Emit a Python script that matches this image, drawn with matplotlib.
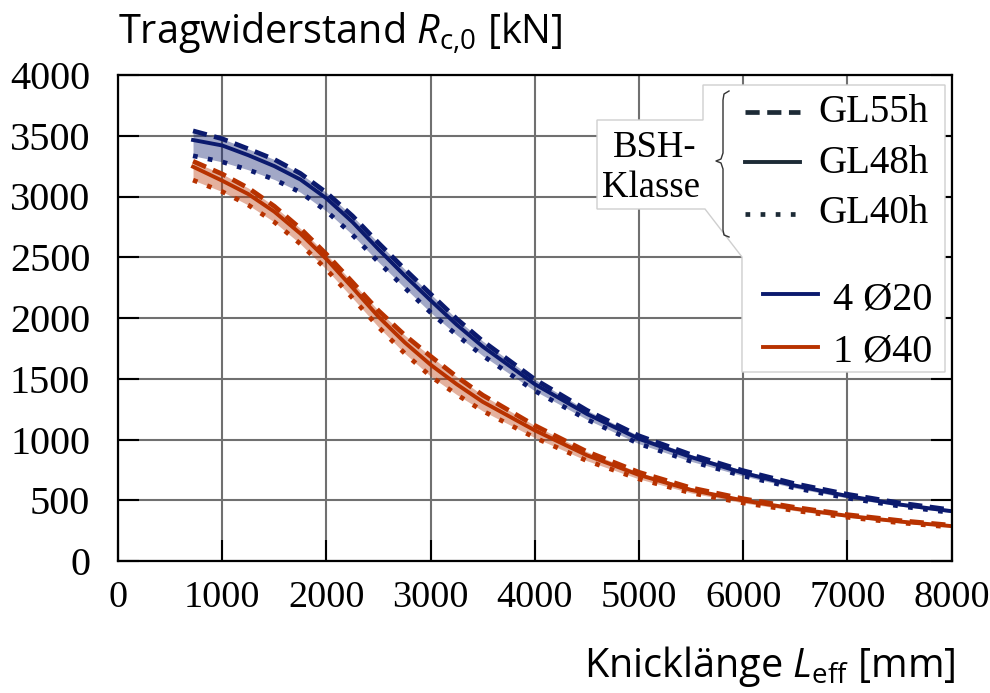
import matplotlib
matplotlib.use("Agg")
import matplotlib.pyplot as plt
from matplotlib.patches import Polygon

# Knicklänge [mm]
L_eff = [720, 1000, 1250, 1500, 1750, 2000, 2250, 2500, 2750, 3000, 3250, 3500,
         4000, 4500, 5000, 5500, 6000, 6500, 7000, 7500, 8000]

# 4 Ø20 (blau)
b_gl55 = [3540, 3475, 3392, 3305, 3190, 3032, 2840, 2617, 2403, 2197, 1993, 1810,
          1495, 1240, 1030, 875, 743, 635, 549, 478, 420]
b_gl48 = [3465, 3420, 3340, 3250, 3140, 2985, 2790, 2565, 2350, 2145, 1945, 1765,
          1455, 1210, 1005, 855, 725, 620, 535, 465, 410]
b_gl40 = [3335, 3285, 3220, 3140, 3035, 2880, 2685, 2460, 2250, 2045, 1860, 1690,
          1400, 1165, 965, 820, 700, 600, 518, 452, 398]

# 1 Ø40 (rot)
r_gl55 = [3290, 3185, 3070, 2920, 2737, 2525, 2295, 2060, 1860, 1685, 1517, 1365,
          1115, 900, 730, 602, 512, 441, 381, 333, 294]
r_gl48 = [3245, 3130, 3020, 2875, 2695, 2485, 2250, 2010, 1800, 1615, 1455, 1310,
          1075, 870, 708, 585, 498, 430, 372, 325, 287]
r_gl40 = [3135, 3040, 2930, 2790, 2610, 2400, 2165, 1925, 1710, 1520, 1370, 1235,
          1015, 825, 675, 560, 478, 414, 360, 315, 279]

xticks = [0, 1000, 2000, 3000, 4000, 5000, 6000, 7000, 8000]
yticks = [0, 500, 1000, 1500, 2000, 2500, 3000, 3500, 4000]

blau = '#0b1a6e'
rot = '#b83200'
dunkel = '#1d2b36'

plt.rcParams['mathtext.fontset'] = 'custom'
plt.rcParams['mathtext.rm'] = 'Open Sans'
plt.rcParams['mathtext.it'] = 'Open Sans:italic'

fig = plt.figure(figsize=(9.9, 6.93), dpi=100)
ax = fig.add_axes([118/990, 1-561/693, (951.7-118)/990, (561-75)/693])

for farbe, d55, d48, d40 in [(blau, b_gl55, b_gl48, b_gl40), (rot, r_gl55, r_gl48, r_gl40)]:
    ax.fill_between(L_eff, d40, d55, color=farbe, alpha=0.38, lw=0, zorder=2)
    ax.plot(L_eff, d55, color=farbe, lw=3.4, dashes=(3, 1.6), zorder=3)
    ax.plot(L_eff, d48, color=farbe, lw=2.8, zorder=4, solid_joinstyle='round')
    ax.plot(L_eff, d40, color=farbe, lw=3.4, dashes=(1, 2.2), zorder=3)

ax.set_xlim(0, 8000)
ax.set_ylim(0, 4000)
ax.set_xticks(xticks)
ax.set_yticks(yticks)
ax.set_xticklabels([str(v) for v in xticks], family='Liberation Serif', fontsize=27.5)
ax.set_yticklabels([str(v) for v in yticks], family='Liberation Serif', fontsize=29)
ax.tick_params(direction='in', length=15, width=1.5, color='black', right=True, top=False)
ax.tick_params(axis='x', pad=14)
ax.tick_params(axis='y', pad=20)
ax.grid(True, color='#707070', lw=1.5, zorder=1)
for s in ax.spines.values():
    s.set_linewidth(1.6)
    s.set_zorder(5)

fig.text(118/990, 1-44/693, 'Tragwiderstand $\\mathit{R}_\\mathrm{c{,}0}$ [kN]',
         family='Open Sans', fontsize=28.5, ha='left', va='baseline')
fig.text(955/990, 1-677/693, 'Knicklänge $\\mathit{L}_\\mathrm{eff}$ [mm]',
         family='Open Sans', fontsize=28.5, ha='right', va='baseline')

# Legende in Pixelkoordinaten
lax = fig.add_axes([0, 0, 1, 1], zorder=10)
lax.set_xlim(0, 990)
lax.set_ylim(693, 0)
lax.axis('off')

umriss = [(703, 85), (945, 85), (945, 372), (742, 372), (742, 257), (705, 209),
          (597, 209), (597, 120), (703, 120)]
lax.add_patch(Polygon(umriss, closed=True, facecolor='white', edgecolor='#cfcfcf', lw=1))

klammer_x = [729, 724, 723, 723, 721, 716, 721, 723, 723, 724, 729]
klammer_y = [91, 94, 100, 153, 159, 161, 163, 169, 230, 235, 237]
lax.plot(klammer_x, klammer_y, color='#333333', lw=1)

lax.text(655, 157, 'BSH-', family='Liberation Serif', fontsize=26.5, ha='center', va='baseline')
lax.text(651, 197, 'Klasse', family='Liberation Serif', fontsize=26.5, ha='center', va='baseline')

lax.plot([745, 800], [112, 112], color=dunkel, lw=3.4, dashes=(3, 1.6))
lax.plot([745, 800], [162, 162], color=dunkel, lw=2.8)
lax.plot([745, 800], [214, 214], color=dunkel, lw=3.4, dashes=(1, 2.2))
for y, t in [(122, 'GL55h'), (173, 'GL48h'), (223, 'GL40h')]:
    lax.text(818, y, t, family='Liberation Serif', fontsize=28, ha='left', va='baseline')

lax.plot([763, 818], [294, 294], color=blau, lw=2.8)
lax.plot([763, 818], [347, 347], color=rot, lw=2.8)
lax.text(833, 310, '4 Ø20', family='Liberation Serif', fontsize=29, ha='left', va='baseline')
lax.text(833, 362, '1 Ø40', family='Liberation Serif', fontsize=29, ha='left', va='baseline')

fig.savefig('out.png', dpi=100)
